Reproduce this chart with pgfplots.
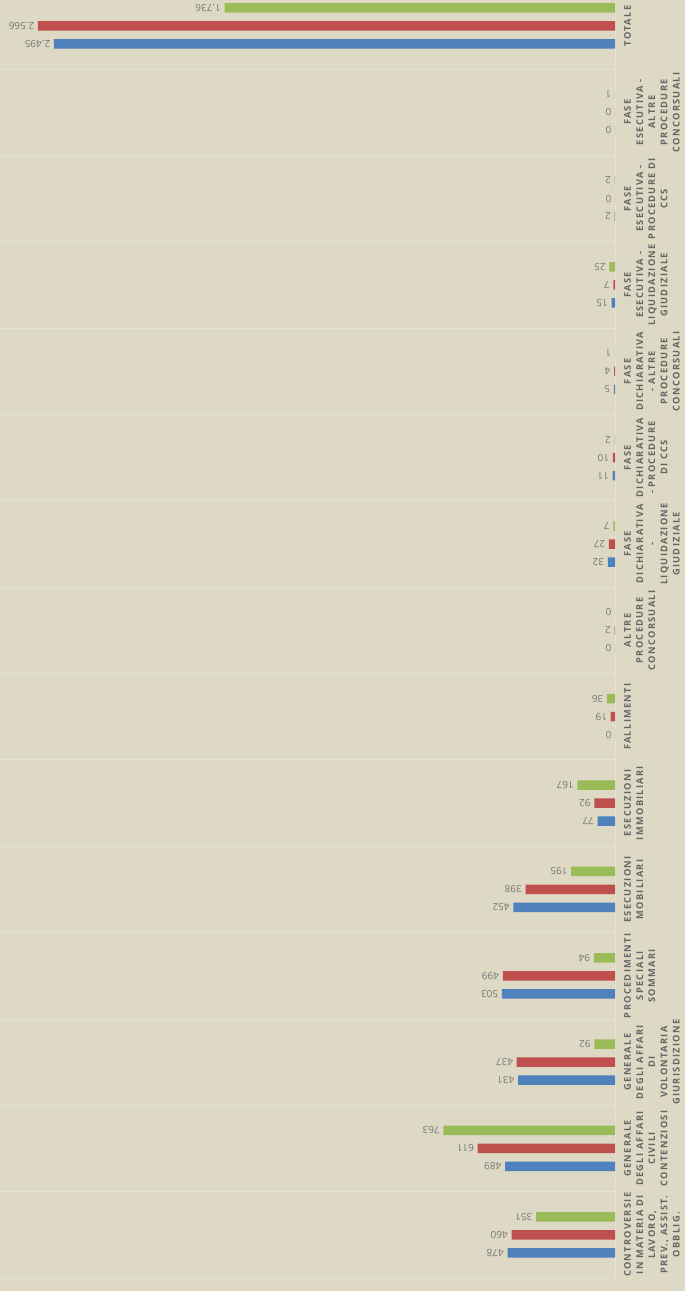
\documentclass[border=0pt]{standalone}
\usepackage{pgfplots}
\pgfplotsset{compat=1.18}
\usepackage{fontspec}
\setmainfont{Open Sans}
\newfontfamily\catfont[LetterSpace=14]{Open Sans}
\definecolor{bg}{HTML}{DDD9C4}
\definecolor{gridc}{HTML}{E5E2D3}
\definecolor{cblue}{HTML}{4F81BD}
\definecolor{cred}{HTML}{C0504D}
\definecolor{cgreen}{HTML}{9BBB59}
\definecolor{labc}{HTML}{666666}
\definecolor{valc}{HTML}{777777}
\begin{document}
\begin{tikzpicture}
\fill[bg] (0,0) rectangle (685bp,1291bp);
\begin{axis}[
  at={(0,13bp)}, anchor=south west, scale only axis,
  width=615bp, height=1278bp,
  xbar, bar width=9.5bp,
  x dir=reverse, xmin=0, xmax=2735,
  ymin=-0.5, ymax=14.3,
  axis line style={draw=none},
  xtick=\empty,
  major tick length=0pt, minor tick length=0pt,
  ytick={0,...,14},
  yticklabel pos=right,
  yticklabels={
    {CONTROVERSIE\\IN MATERIA DI\\LAVORO,\\PREV., ASSIST.\\OBBLIG.},
    {GENERALE\\DEGLI AFFARI\\CIVILI\\CONTENZIOSI},
    {GENERALE\\DEGLI AFFARI\\DI\\VOLONTARIA\\GIURISDIZIONE},
    {PROCEDIMENTI\\SPECIALI\\SOMMARI},
    {ESECUZIONI\\MOBILIARI},
    {ESECUZIONI\\IMMOBILIARI},
    {FALLIMENTI},
    {ALTRE\\PROCEDURE\\CONCORSUALI},
    {FASE\\DICHIARATIVA\\-\\LIQUIDAZIONE\\GIUDIZIALE},
    {FASE\\DICHIARATIVA\\- PROCEDURE\\DI CCS},
    {FASE\\DICHIARATIVA\\- ALTRE\\PROCEDURE\\CONCORSUALI},
    {FASE\\ESECUTIVA -\\LIQUIDAZIONE\\GIUDIZIALE},
    {FASE\\ESECUTIVA -\\PROCEDURE DI\\CCS},
    {FASE\\ESECUTIVA -\\ALTRE\\PROCEDURE\\CONCORSUALI},
    {TOTALE}},
  yticklabel style={rotate=90, anchor=north, align=center,
    font=\catfont\bfseries\fontsize{9.3}{12.2}\selectfont, text=labc,
    inner xsep=0pt, inner ysep=9bp},
  minor ytick={-0.5,0.5,...,13.5},
  yminorgrids,
  minor grid style={draw=gridc, line width=0.8bp},
  extra x ticks={0}, extra x tick labels={},
  extra x tick style={grid=major, major grid style={draw=gridc, line width=0.8bp}},
  nodes near coords={\pgfmathprintnumber{\pgfplotspointmeta}},
  every node near coord/.append style={rotate=180, anchor=west,
    font=\fontsize{10}{12}\selectfont, text=valc, inner xsep=3.5bp, inner ysep=0pt},
  /pgf/number format/1000 sep={.},
  /pgf/number format/assume math mode=true,
]
\addplot[fill=cblue, draw=none, bar shift=-18bp] coordinates {
  (478,0) (489,1) (431,2) (503,3) (452,4) (77,5) (0,6) (0,7)
  (32,8) (11,9) (5,10) (15,11) (2,12) (0,13) (2495,14)};
\addplot[fill=cred, draw=none, bar shift=0bp] coordinates {
  (460,0) (611,1) (437,2) (499,3) (398,4) (92,5) (19,6) (2,7)
  (27,8) (10,9) (4,10) (7,11) (0,12) (0,13) (2566,14)};
\addplot[fill=cgreen, draw=none, bar shift=18bp] coordinates {
  (351,0) (763,1) (92,2) (94,3) (195,4) (167,5) (36,6) (0,7)
  (7,8) (2,9) (1,10) (25,11) (2,12) (1,13) (1736,14)};
\end{axis}
\pgfresetboundingbox
\path[use as bounding box] (0,0) rectangle (685bp,1291bp);
\end{tikzpicture}
\end{document}
